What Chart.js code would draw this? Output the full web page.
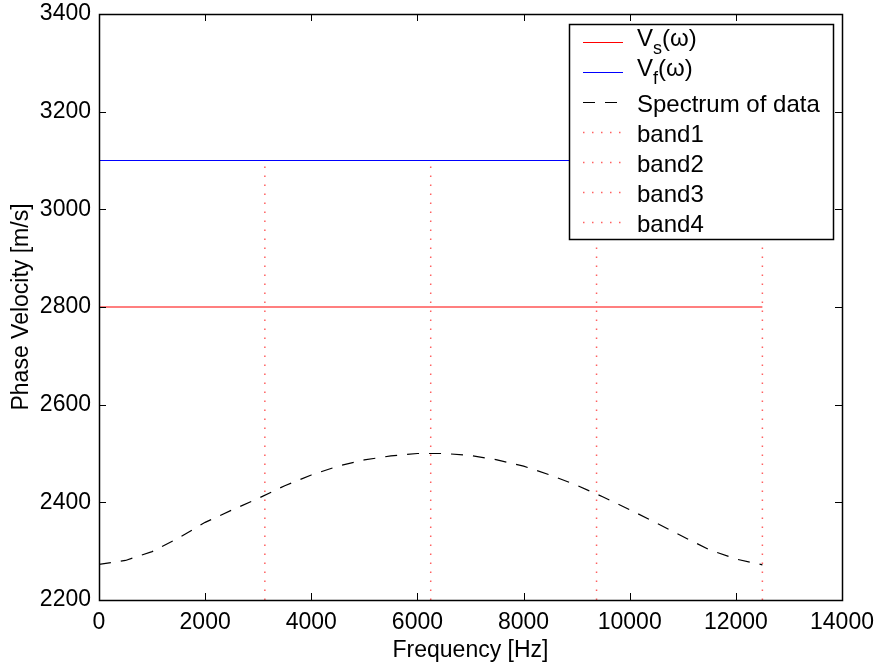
<!DOCTYPE html>
<html>
<head>
<meta charset="utf-8">
<script src="https://cdn.jsdelivr.net/npm/chart.js@4.4.1/dist/chart.umd.min.js"></script>
<style>
  html, body { margin: 0; padding: 0; background: #fff; }
</style>
</head>
<body>
<canvas id="chart" width="881" height="669"></canvas>
<script>
// spectrum of data
const freqHz = [0, 500, 1000, 1500, 2000, 2500, 3000, 3500, 4000, 4500, 5000, 5500, 6000,
  6500, 7000, 7500, 8000, 8500, 9000, 9500, 10000, 10500, 11000, 11500, 12000, 12500];
const spectrumVel = [2273, 2281, 2299, 2327, 2359, 2384, 2408, 2434, 2456, 2474, 2487, 2495, 2500,
  2500, 2496, 2487, 2474, 2456, 2435, 2411, 2385, 2358, 2330, 2303, 2284, 2272];

// constant velocities
const lineFreq = [0, 12500];
const vsVel = [2800, 2800];
const vfVel = [3100, 3100];

// vertical band markers
const bandFreq = [3125, 6250, 9375, 12500];
const bandVel = [2200, 3090];

const xTickValues = [0, 2000, 4000, 6000, 8000, 10000, 12000, 14000];
const yTickValues = [2200, 2400, 2600, 2800, 3000, 3200, 3400];

const FONT = '"Liberation Sans", Arial, Helvetica, sans-serif';
Chart.defaults.font.family = FONT;
Chart.defaults.color = '#000';

const RED = '#ff0000', BLUE = '#0000ff', DOT_RED = '#ff6060';

const toXY = (xs, ys) => xs.map((v, i) => ({ x: v, y: ys[i] }));

const datasets = [
  { label: 'V_s(ω)', data: toXY(lineFreq, vsVel), borderColor: RED, borderWidth: 1.2 },
  { label: 'V_f(ω)', data: toXY(lineFreq, vfVel), borderColor: BLUE, borderWidth: 1.2 },
  { label: 'Spectrum of data', data: toXY(freqHz, spectrumVel), borderColor: '#000', borderWidth: 1.2, borderDash: [12, 10] }
];
bandFreq.forEach((f, i) => {
  datasets.push({
    label: 'band' + (i + 1),
    data: toXY([f, f], bandVel),
    borderColor: DOT_RED, borderWidth: 1.5, borderDash: [1.5, 7.5]
  });
});

// box around the axes with inward ticks, like matlab
const frameTicks = {
  id: 'frameTicks',
  afterDatasetsDraw(chart) {
    const { ctx, chartArea: a, scales: { x, y } } = chart;
    const len = 7;
    ctx.save();
    ctx.strokeStyle = '#000';
    ctx.lineWidth = 1;
    ctx.beginPath();
    xTickValues.forEach(v => {
      const px = Math.round(x.getPixelForValue(v)) + 0.5;
      ctx.moveTo(px, a.bottom); ctx.lineTo(px, a.bottom - len);
      ctx.moveTo(px, a.top); ctx.lineTo(px, a.top + len);
    });
    yTickValues.forEach(v => {
      const py = Math.round(y.getPixelForValue(v)) + 0.5;
      ctx.moveTo(a.left, py); ctx.lineTo(a.left + len, py);
      ctx.moveTo(a.right, py); ctx.lineTo(a.right - len, py);
    });
    ctx.stroke();
    ctx.lineWidth = 1.5;
    ctx.strokeRect(Math.round(a.left) + 0.5, Math.round(a.top) + 0.5,
      Math.round(a.right - a.left), Math.round(a.bottom - a.top));
    ctx.restore();
  }
};

// legend box inside the plot, top right
const boxLegend = {
  id: 'boxLegend',
  afterDraw(chart) {
    const { ctx, chartArea: a } = chart;
    const w = 264, h = 215;
    const left = Math.round(a.right - 9 - w), top = Math.round(a.top + 10);
    ctx.save();
    ctx.fillStyle = '#fff';
    ctx.fillRect(left, top, w, h);
    ctx.strokeStyle = '#000';
    ctx.lineWidth = 1.5;
    ctx.strokeRect(left + 0.5, top + 0.5, w, h);
    chart.data.datasets.forEach((ds, i) => {
      const opts = chart.getDatasetMeta(i).dataset.options;
      const ly = Math.round(top + 18 + i * 30) + 0.5;
      ctx.beginPath();
      ctx.strokeStyle = opts.borderColor;
      ctx.lineWidth = opts.borderWidth;
      ctx.setLineDash(opts.borderDash || []);
      ctx.moveTo(left + 14, ly);
      ctx.lineTo(left + 54, ly);
      ctx.stroke();
      ctx.setLineDash([]);
      ctx.fillStyle = '#000';
      ctx.textBaseline = 'alphabetic';
      ctx.textAlign = 'left';
      let tx = left + 68;
      const m = ds.label.match(/^(.*)_(.)(.*)$/);
      if (m) {
        const by = ly + 3;
        ctx.font = '24px ' + FONT;
        ctx.fillText(m[1], tx, by); tx += ctx.measureText(m[1]).width;
        ctx.font = '18px ' + FONT;
        ctx.fillText(m[2], tx, by + 8); tx += ctx.measureText(m[2]).width;
        ctx.font = '24px ' + FONT;
        ctx.fillText(m[3], tx, by);
      } else {
        ctx.font = '24px ' + FONT;
        ctx.fillText(ds.label, tx, ly + 9);
      }
    });
    ctx.restore();
  }
};

new Chart(document.getElementById('chart'), {
  type: 'line',
  data: { datasets },
  plugins: [frameTicks, boxLegend],
  options: {
    responsive: false,
    animation: false,
    elements: { point: { radius: 0 }, line: { tension: 0, fill: false } },
    layout: { padding: { top: 14, right: 39, left: 0, bottom: 0 } },
    plugins: { legend: { display: false }, tooltip: { enabled: false } },
    scales: {
      x: {
        type: 'linear', min: 0, max: 14000,
        afterBuildTicks: s => { s.ticks = xTickValues.map(v => ({ value: v })); },
        afterFit: s => { s.height = 69; s.paddingLeft = 0; s.paddingRight = 0; },
        grid: { display: false, drawTicks: false },
        border: { display: false },
        ticks: { padding: 9, maxRotation: 0, font: { size: 23 }, callback: v => String(v) },
        title: { display: true, text: 'Frequency [Hz]', font: { size: 23 }, padding: { top: 0, bottom: 5 } }
      },
      y: {
        type: 'linear', min: 2200, max: 3400,
        afterBuildTicks: s => { s.ticks = yTickValues.map(v => ({ value: v })); },
        afterFit: s => { s.width = 99; s.paddingTop = 0; s.paddingBottom = 0; },
        grid: { display: false, drawTicks: false },
        border: { display: false },
        ticks: { padding: 8, font: { size: 23 }, callback: v => String(v) },
        title: { display: true, text: 'Phase Velocity [m/s]', font: { size: 23 }, padding: { top: 8, bottom: 0 } }
      }
    }
  }
});
</script>
</body>
</html>
